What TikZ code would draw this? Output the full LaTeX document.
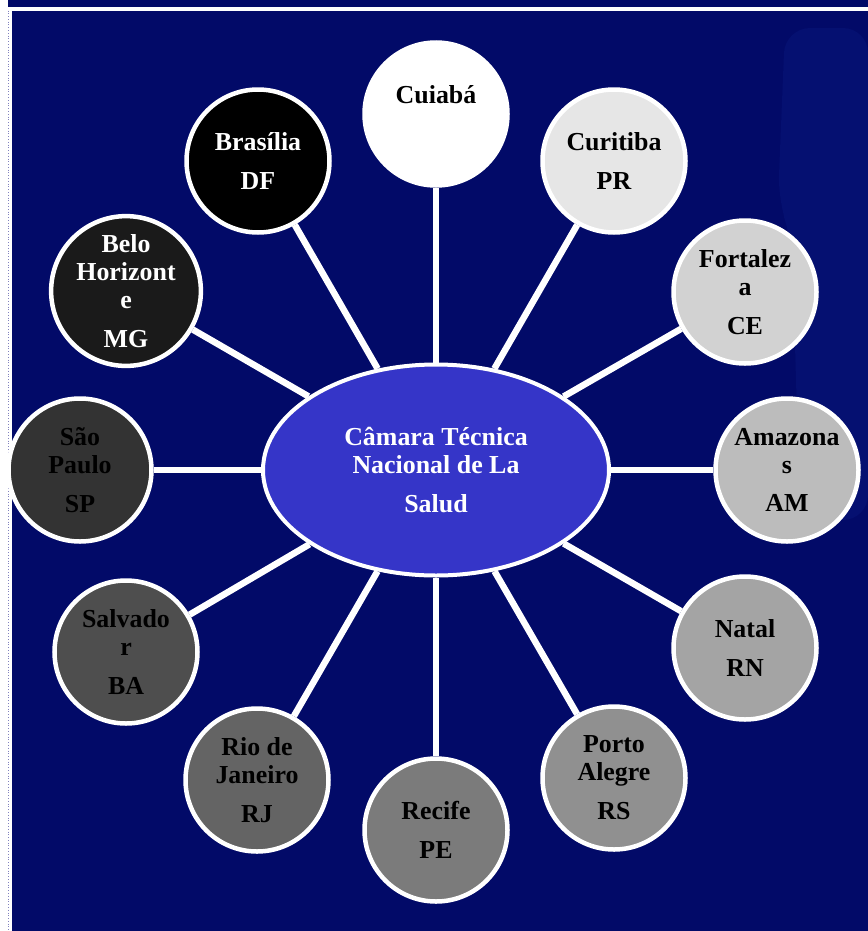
\documentclass[tikz,border=0pt]{standalone}
\usepackage{fontspec}
\setmainfont{Liberation Serif}
\usetikzlibrary{shapes.geometric}
\definecolor{navy}{RGB}{2,10,104}
\definecolor{navylite}{RGB}{5,16,113}
\definecolor{hub}{RGB}{53,53,200}
\definecolor{dotline}{RGB}{130,130,190}
\definecolor{gA}{RGB}{255,255,255}
\definecolor{gB}{RGB}{230,230,230}
\definecolor{gC}{RGB}{210,210,210}
\definecolor{gD}{RGB}{188,188,188}
\definecolor{gE}{RGB}{164,164,164}
\definecolor{gF}{RGB}{144,144,144}
\definecolor{gG}{RGB}{123,123,123}
\definecolor{gH}{RGB}{100,100,100}
\definecolor{gI}{RGB}{78,78,78}
\definecolor{gJ}{RGB}{51,51,51}
\definecolor{gK}{RGB}{26,26,26}
\definecolor{gL}{RGB}{0,0,0}
\begin{document}
\begin{tikzpicture}[x=1bp,y=-1bp,
  lbl/.style={font=\bfseries\fontsize{26}{28}\selectfont},
  city/.style={circle, draw=white, line width=4.5bp, minimum size=143bp,
    inner sep=0pt, align=center, text=black, lbl},
  hubnode/.style={ellipse, draw=white, line width=4bp, minimum width=346bp,
    minimum height=211bp, inner sep=0pt, fill=hub, text=white, align=center, lbl},
  conn/.style={draw=white, line width=6.5bp}]
\useasboundingbox (0,0) rectangle (868,931);
% frame
\fill[white] (0,0) rectangle (868,931);
\fill[navy] (8,0) rectangle (868,931);
\fill[navylite, rounded corners=25bp] (785,28) -- (868,28) -- (868,520) -- (800,520) -- (792,240) -- (778,200) -- cycle;
\fill[white] (8,7) rectangle (868,10.5);
\fill[white] (8,7) rectangle (11.5,931);
\draw[dotline, line width=0.8bp, dotted] (8.4,10.5) -- (8.4,931);
% hub
\node[hubnode] (ctr) at (436,470) {C\^amara T\'ecnica\\Nacional de La\\[11bp]Salud};
% cities
\node[city, fill=gA] (cui) at (436,114) {};
\node[lbl, anchor=base, text=black] (cuit) at (436,103) {Cuiab\'a};
\node[city, fill=gB] (cur) at (614,161) {Curitiba\\[11bp]PR};
\node[city, fill=gC] (for) at (745,292) {Fortalez\\a\\[11bp]CE};
\node[city, fill=gD] (ama) at (787,470) {Amazona\\s\\[11bp]AM};
\node[city, fill=gE] (nat) at (745,648) {Natal\\[11bp]RN};
\node[city, fill=gF] (poa) at (614,778) {Porto\\Alegre\\[11bp]RS};
\node[city, fill=gG] (rec) at (436,830) {Recife\\[11bp]PE};
\node[city, fill=gH] (rio) at (257,780) {Rio de\\Janeiro\\[11bp]RJ};
\node[city, fill=gI] (sal) at (126,652) {Salvado\\r\\[11bp]BA};
\node[city, fill=gJ] (sao) at (80,470) {S\~ao\\Paulo\\[11bp]SP};
\node[city, fill=gK, text=white] (bel) at (126,291) {Belo\\Horizont\\e\\[11bp]MG};
\node[city, fill=gL, text=white] (bra) at (258,161) {Bras\'{\i}lia\\[11bp]DF};
% connectors
\foreach \c in {cui,cur,for,ama,nat,poa,rec,rio,sal,sao,bel,bra}
  \draw[conn] (ctr) -- (\c);
\end{tikzpicture}
\end{document}
